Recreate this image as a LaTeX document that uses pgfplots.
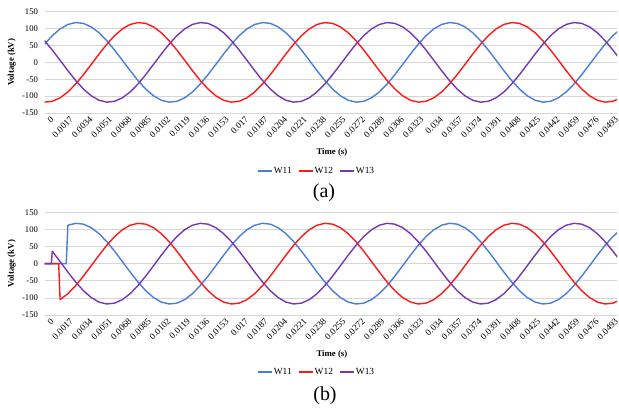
\documentclass[border=0pt]{standalone}
\usepackage{pgfplots}
\pgfplotsset{compat=1.18}
\usepackage{pgfplotstable}
\usepackage{fontspec}
\setmainfont{Liberation Serif}

\definecolor{cW11}{RGB}{74,126,214}
\definecolor{cW12}{RGB}{255,24,24}
\definecolor{cW13}{RGB}{118,56,178}

% Three-phase winding voltages, steady state (kV)
\pgfplotstableread{
t        W11     W12     W13
0        53.6   -117.8   64.3
0.00068  79.0   -115.4   36.5
0.00136  99.0   -105.1    6.2
0.00204 112.2    -87.7  -24.5
0.00272 117.8    -64.3  -53.6
0.0034  115.4    -36.5  -79.0
0.00408 105.1     -6.2  -99.0
0.00476  87.7     24.5 -112.2
0.00544  64.3     53.6 -117.8
0.00612  36.5     79.0 -115.4
0.0068    6.2     99.0 -105.1
0.00748 -24.5    112.2  -87.7
0.00816 -53.6    117.8  -64.3
0.00884 -79.0    115.4  -36.5
0.00952 -99.0    105.1   -6.2
0.0102 -112.2     87.7   24.5
0.01088 -117.8    64.3   53.6
0.01156 -115.4    36.5   79.0
0.01224 -105.1     6.2   99.0
0.01292 -87.7    -24.5  112.2
0.0136  -64.3    -53.6  117.8
0.01428 -36.5    -79.0  115.4
0.01496  -6.2    -99.0  105.1
0.01564  24.5   -112.2   87.7
0.01632  53.6   -117.8   64.3
0.017    79.0   -115.4   36.5
0.01768  99.0   -105.1    6.2
0.01836 112.2    -87.7  -24.5
0.01904 117.8    -64.3  -53.6
0.01972 115.4    -36.5  -79.0
0.0204  105.1     -6.2  -99.0
0.02108  87.7     24.5 -112.2
0.02176  64.3     53.6 -117.8
0.02244  36.5     79.0 -115.4
0.02312   6.2     99.0 -105.1
0.0238  -24.5    112.2  -87.7
0.02448 -53.6    117.8  -64.3
0.02516 -79.0    115.4  -36.5
0.02584 -99.0    105.1   -6.2
0.02652 -112.2    87.7   24.5
0.0272 -117.8     64.3   53.6
0.02788 -115.4    36.5   79.0
0.02856 -105.1     6.2   99.0
0.02924 -87.7    -24.5  112.2
0.02992 -64.3    -53.6  117.8
0.0306  -36.5    -79.0  115.4
0.03128  -6.2    -99.0  105.1
0.03196  24.5   -112.2   87.7
0.03264  53.6   -117.8   64.3
0.03332  79.0   -115.4   36.5
0.034    99.0   -105.1    6.2
0.03468 112.2    -87.7  -24.5
0.03536 117.8    -64.3  -53.6
0.03604 115.4    -36.5  -79.0
0.03672 105.1     -6.2  -99.0
0.0374   87.7     24.5 -112.2
0.03808  64.3     53.6 -117.8
0.03876  36.5     79.0 -115.4
0.03944   6.2     99.0 -105.1
0.04012 -24.5    112.2  -87.7
0.0408  -53.6    117.8  -64.3
0.04148 -79.0    115.4  -36.5
0.04216 -99.0    105.1   -6.2
0.04284 -112.2    87.7   24.5
0.04352 -117.8    64.3   53.6
0.0442 -115.4     36.5   79.0
0.04488 -105.1     6.2   99.0
0.04556 -87.7    -24.5  112.2
0.04624 -64.3    -53.6  117.8
0.04692 -36.5    -79.0  115.4
0.0476   -6.2    -99.0  105.1
0.04828  24.5   -112.2   87.7
0.04896  53.6   -117.8   64.3
0.04964  79.0   -115.4   36.5
0.05032  99.0   -105.1    6.2
}\dataA

\pgfplotsset{
  wave/.style={
    scale only axis,
    width=572.5bp,
    xmin=0, xmax=0.05,
    ymin=-150, ymax=150,
    ytick={-150,-100,-50,0,50,100,150},
    xtick={0,0.0017,0.0034,0.0051,0.0068,0.0085,0.0102,0.0119,0.0136,0.0153,
           0.017,0.0187,0.0204,0.0221,0.0238,0.0255,0.0272,0.0289,0.0306,0.0323,
           0.034,0.0357,0.0374,0.0391,0.0408,0.0425,0.0442,0.0459,0.0476,0.0493},
    xticklabels={0,0.0017,0.0034,0.0051,0.0068,0.0085,0.0102,0.0119,0.0136,0.0153,
           0.017,0.0187,0.0204,0.0221,0.0238,0.0255,0.0272,0.0289,0.0306,0.0323,
           0.034,0.0357,0.0374,0.0391,0.0408,0.0425,0.0442,0.0459,0.0476,0.0493},
    scaled x ticks=false,
    /pgf/number format/assume math mode=true,
    ymajorgrids,
    grid style={draw=black!16, line width=0.7bp},
    axis line style={draw=none},
    tick style={draw=none},
    x tick label style={rotate=45, anchor=east, inner sep=1bp,
      xshift=3bp, yshift=-9bp,
      font=\fontsize{9.2}{10}\selectfont},
    y tick label style={font=\fontsize{8.7}{10}\selectfont, xshift=-3bp},
    xlabel={Time (s)},
    ylabel={Voltage (kV)},
    xlabel style={at={(axis description cs:0.502,-0.385)}, anchor=center,
      font=\bfseries\fontsize{8.8}{10}\selectfont},
    ylabel style={at={(axis description cs:-0.057,0.5)}, anchor=center,
      font=\bfseries\fontsize{8.8}{10}\selectfont},
    legend columns=3,
    legend style={anchor=center,
      draw=none, fill=none, font=\fontsize{9.4}{10}\selectfont,
      /tikz/every even column/.append style={column sep=5bp}},
    legend image code/.code={%
      \fill[#1, draw=none] (0bp,-0.85bp) rectangle (14bp,0.85bp);},
  },
  pW11/.style={color=cW11, line width=1.4bp, mark=none},
  pW12/.style={color=cW12, line width=1.4bp, mark=none},
  pW13/.style={color=cW13, line width=1.4bp, mark=none},
}

\begin{document}
\begin{tikzpicture}
\useasboundingbox (0bp,0bp) rectangle (619bp,412bp);

% (a) steady-state waveforms
\begin{axis}[wave, height=101.3bp, at={(44.5bp,299bp)}, anchor=south west,
    legend style={at={(axis description cs:0.476,-0.575)}}]
  \addlegendimage{pW11}\addlegendentry{W11}
  \addlegendimage{pW12}\addlegendentry{W12}
  \addlegendimage{pW13}\addlegendentry{W13}
  \addplot[pW11, forget plot] table[x=t, y=W11] {\dataA};
  \addplot[pW12, forget plot] table[x=t, y=W12] {\dataA};
  \addplot[pW13, forget plot] table[x=t, y=W13] {\dataA};
\end{axis}
\node[font=\fontsize{20}{24}\selectfont] at (324bp,219bp) {(a)};

% (b) energisation: each winding switches in at its own instant
\begin{axis}[wave, height=102.7bp, at={(44.5bp,97bp)}, anchor=south west,
    legend style={at={(axis description cs:0.476,-0.555)}}]
  \addlegendimage{pW11}\addlegendentry{W11}
  \addlegendimage{pW12}\addlegendentry{W12}
  \addlegendimage{pW13}\addlegendentry{W13}
  \addplot[pW11, forget plot]
    coordinates {(0,0) (0.00068,0) (0.00136,0) (0.0019,0) (0.00204,112.2)};
  \addplot[pW12, forget plot]
    coordinates {(0,0) (0.00068,0) (0.00124,0) (0.00136,-105.1)};
  \addplot[pW13, forget plot]
    coordinates {(0,0) (0.0006,0) (0.00068,36.5)};
  \addplot[pW11, forget plot]
    table[x=t, y=W11, restrict x to domain=0.002:0.06] {\dataA};
  \addplot[pW12, forget plot]
    table[x=t, y=W12, restrict x to domain=0.0013:0.06] {\dataA};
  \addplot[pW13, forget plot]
    table[x=t, y=W13, restrict x to domain=0.0006:0.06] {\dataA};
\end{axis}
\node[font=\fontsize{20}{24}\selectfont] at (325bp,16bp) {(b)};
\end{tikzpicture}
\end{document}
